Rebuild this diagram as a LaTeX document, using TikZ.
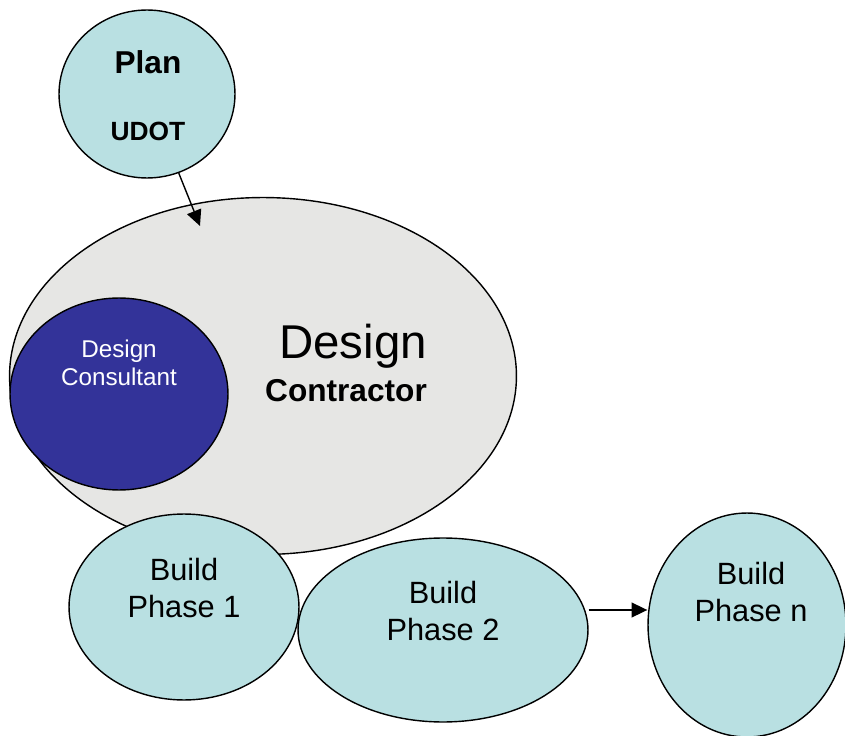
\documentclass[tikz,border=0pt]{standalone}
\usepackage{fontspec}
\setmainfont{Liberation Sans}
\usepackage{tikz}
\usetikzlibrary{shapes.geometric, arrows.meta, positioning}

\definecolor{paleblue}{RGB}{185,224,226}
\definecolor{deepblue}{RGB}{51,51,153}
\definecolor{stone}{RGB}{230,230,228}

\begin{document}
\begin{tikzpicture}
  [
    x=0.02cm, y=-0.02cm,
    Blue/.style={ellipse, draw=black, fill=paleblue, thick, inner sep=0pt},
    Stone/.style={ellipse, draw=black, fill=stone, thick, inner sep=0pt},
    Deep/.style={ellipse, draw=black, fill=deepblue, thick, inner sep=0pt},
    Txt/.style={align=center, inner sep=0pt}
  ]
  \useasboundingbox (0,0) rectangle (845,736);

  % Nodes
  \node[Blue, minimum width=3.52cm, minimum height=3.36cm] (plan) at(147, 94) {};
  \node[Txt, font=\fontsize{18}{20}\selectfont\bfseries] (plant) at(148, 62) {Plan};
  \node[Txt, font=\fontsize{15}{17}\selectfont\bfseries] (udot) at(148, 131) {UDOT};

  \node[Stone, minimum width=10.14cm, minimum height=7.14cm] (design) at(263, 376) {};
  \node[Txt, font=\fontsize{27}{30}\selectfont] (designt) at(353, 346) {Design};
  \node[Txt, font=\fontsize{18}{20}\selectfont\bfseries] (contr) at(346, 391) {Contractor};

  \node[Deep, minimum width=4.36cm, minimum height=3.84cm] (consult) at(119, 394) {};
  \node[Txt, text=white, font=\fontsize{13.8}{16}\selectfont] (consultt) at(119, 363) {Design\\Consultant};

  \node[Blue, minimum width=4.6cm, minimum height=3.72cm] (p1) at(184, 607) {};
  \node[Txt, font=\fontsize{17.5}{20.5}\selectfont] (p1t) at(184, 588) {Build\\Phase 1};

  \node[Blue, minimum width=5.8cm, minimum height=3.68cm] (p2) at(443, 630) {};
  \node[Txt, font=\fontsize{17.5}{20.5}\selectfont] (p2t) at(443, 611) {Build\\Phase 2};

  \node[Blue, minimum width=3.96cm, minimum height=4.48cm] (pn) at(747, 625) {};
  \node[Txt, font=\fontsize{17.5}{20.5}\selectfont] (pnt) at(751, 592) {Build\\Phase n};

  % Lines
  \path [-{Triangle[length=9pt, width=8.5pt]}, draw, thick] (plan) -- (200, 226);
  \path [-{Triangle[length=9pt, width=8.5pt]}, draw, thick] (p2.east |- 0,610) -- (pn.west |- 0,610);

\end{tikzpicture}
\end{document}
